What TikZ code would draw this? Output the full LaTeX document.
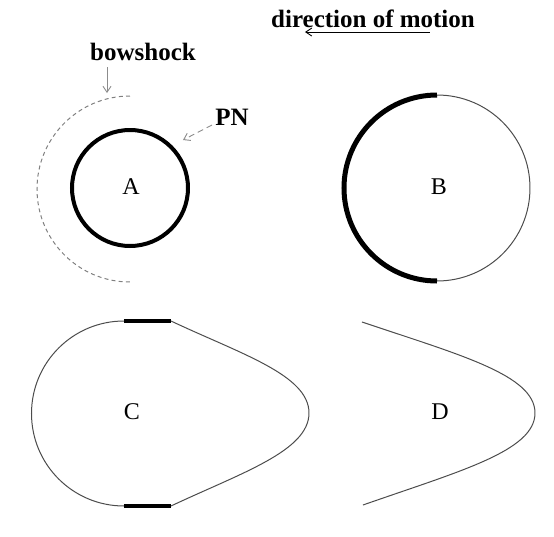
\documentclass[tikz,border=0pt]{standalone}
\usepackage{fontspec}
\setmainfont{Liberation Serif}
\usetikzlibrary{arrows.meta,positioning}

\begin{document}
\begin{tikzpicture}[x=0.5pt, y=-0.5pt,
  lbl/.style={font=\fontsize{12.5}{14}\selectfont\bfseries, anchor=base, inner sep=0pt},
  letter/.style={font=\fontsize{12}{14}\selectfont, inner sep=0pt},
  thinline/.style={line width=0.5pt, black!70},
  thickline/.style={line width=2pt, black},
  arr/.style={-{Straight Barb[length=3pt,width=4pt]}, line width=0.45pt, gray!90},
]
  \useasboundingbox (0,0) rectangle (554,537);

  % Labels
  \node[lbl] (motion) at (373,27) {direction of motion};
  \node[lbl] (bow) at (143,60) {bowshock};
  \node[lbl] (pn) at (232,125) {PN};

  % Arrow ends
  \coordinate (motionR) at (430,32);
  \coordinate (motionL) at (305,32);
  \coordinate (bowTop) at (107,67);
  \coordinate (bowTip) at (107,93);
  \coordinate (pnTail) at (212,125);
  \coordinate (pnTip) at (183,140);

  % Panel A
  \draw[line width=0.5pt, gray, dash pattern=on 2pt off 1.6pt]
    (130,96) arc[start angle=-90, end angle=-270, radius=93];
  \draw[thickline] (130,188) circle[radius=58];
  \node[letter] (A) at (131,187) {A};

  % Panel B
  \draw[thinline] (437,188) circle[radius=93];
  \draw[line width=2.5pt] (437,95) arc[start angle=-90, end angle=-270, radius=93];
  \node[letter] (B) at (439,187) {B};

  % Panel C
  \draw[thinline] (124,321) arc[start angle=-90, end angle=-270, radius=92.5];
  \draw[thinline] (171,506) .. controls (241,473) and (309,451) .. (309,413)
    .. controls (309,375) and (241,354) .. (171,321);
  \draw[thickline] (124,321) -- (171,321);
  \draw[thickline] (124,506) -- (171,506);
  \node[letter] (C) at (132,412) {C};

  % Panel D
  \draw[thinline] (362,322) .. controls (460,355) and (535,375) .. (535,413)
    .. controls (535,451) and (460,471) .. (363,505);
  \node[letter] (D) at (440,412) {D};

  % Arrows
  \draw[arr, black] (motionR) -- (motionL);
  \draw[arr] (bowTop) -- (bowTip);
  \draw[arr, densely dashed] (pnTail) -- (pnTip);
\end{tikzpicture}
\end{document}
